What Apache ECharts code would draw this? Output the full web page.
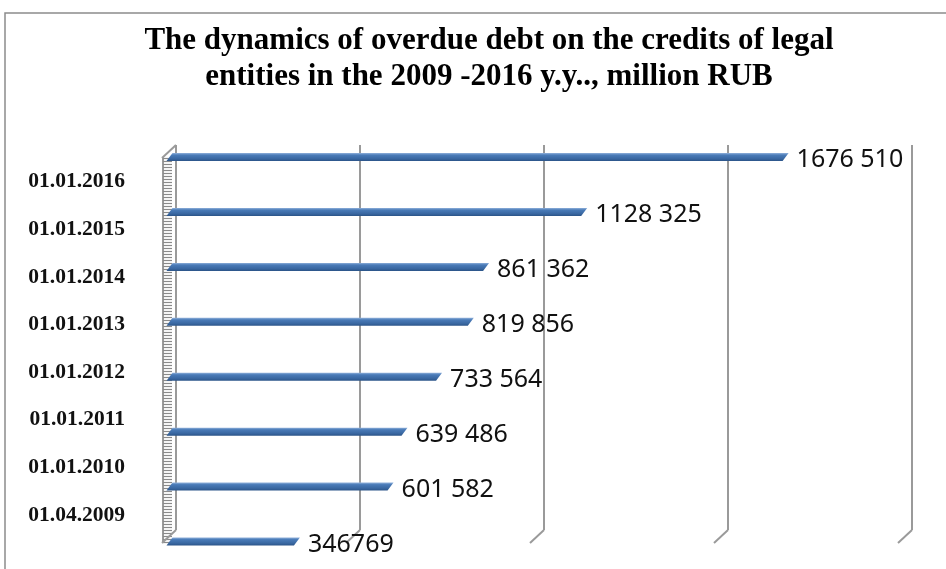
<!DOCTYPE html>
<html>
<head>
<meta charset="utf-8">
<script src="https://cdn.jsdelivr.net/npm/echarts@6/dist/echarts.min.js"></script>
<style>
  html, body { margin: 0; padding: 0; background: #fff; }
  #chart { width: 946px; height: 569px; }
</style>
</head>
<body>
<div id="chart"></div>
<script>
// Reporting dates, bottom to top
const dates = ['01.04.2009', '01.01.2010', '01.01.2011', '01.01.2012',
               '01.01.2013', '01.01.2014', '01.01.2015', '01.01.2016'];
// Overdue debt, million RUB
const overdue = [346769, 601582, 639486, 733564, 819856, 861362, 1128325, 1676510];
// Value labels as printed next to each bar
const overdueText = ['346769', '601 582', '639 486', '733 564',
                     '819 856', '861 362', '1128 325', '1676 510'];
// Value scale of the chart box
const scaleMax = 2000000;
const scaleStep = 500000;
const gridValues = [0, 500000, 1000000, 1500000, 2000000];

const chart = echarts.init(document.getElementById('chart'), null, { renderer: 'canvas' });

const wallColor = '#9a9a9a';
const depthX = 14, depthY = 13;   // front-to-back offset of the 3D box

function barItem(params, api) {
  const idx = api.value(1);
  const end = api.coord([api.value(0), idx]);
  const start = api.coord([0, idx]);
  const h = 8, s = 3;
  const y = end[1];
  return {
    type: 'group',
    children: [
      {
        type: 'polygon',
        shape: {
          points: [
            [start[0] - s, y + h / 2], [end[0] - s, y + h / 2],
            [end[0] + s, y - h / 2], [start[0] + s, y - h / 2]
          ]
        },
        style: {
          fill: new echarts.graphic.LinearGradient(0, 0, 0, 1, [
            { offset: 0, color: '#8fb0da' },
            { offset: 0.25, color: '#4a7bb8' },
            { offset: 0.7, color: '#3a68a2' },
            { offset: 1, color: '#2b5488' }
          ])
        }
      },
      {
        type: 'text',
        style: {
          x: end[0] + s + 8,
          y: y + 3,
          text: overdueText[params.dataIndex],
          fontFamily: 'Noto Sans',
          fontSize: 25,
          fill: '#111',
          verticalAlign: 'middle',
          align: 'left'
        }
      }
    ]
  };
}

function floorItem(params, api) {
  const v = api.value(0);
  const bottom = api.coord([v, 0]);
  const children = [{
    type: 'line',
    shape: { x1: bottom[0], y1: bottom[1], x2: bottom[0] - depthX, y2: bottom[1] + depthY },
    style: { stroke: wallColor, lineWidth: 2 }
  }];
  if (v === 0) {
    const top = api.coord([v, 1]);
    children.push({
      type: 'line',
      shape: { x1: top[0], y1: top[1], x2: top[0] - depthX, y2: top[1] + depthY },
      style: { stroke: wallColor, lineWidth: 2 }
    });
  }
  return { type: 'group', children };
}

const option = {
  backgroundColor: '#fff',
  animation: false,
  title: {
    text: 'The dynamics of overdue debt on the credits of legal\nentities in the 2009 -2016 y.y.., million RUB',
    left: 484,
    top: 18,
    textAlign: 'center',
    textStyle: {
      fontFamily: 'Liberation Serif',
      fontWeight: 'bold',
      fontSize: 31,
      lineHeight: 36,
      color: '#000'
    }
  },
  graphic: [{
    type: 'rect',
    shape: { x: 5, y: 13, width: 1000, height: 600 },
    style: { fill: 'none', stroke: '#8c8c8c', lineWidth: 1.5 },
    silent: true
  }],
  grid: [
    // back wall with gridlines
    { left: 176, right: 34, top: 145, bottom: 39 },
    // bars
    { left: 169.5, right: 41.5, top: 129.6, height: 441.1 },
    // date labels
    { left: 133, width: 20, top: 157.9, height: 381 },
    // side wall ruler
    { left: 163, width: 10, top: 158, height: 384 }
  ],
  xAxis: [
    {
      gridIndex: 0, type: 'value', min: 0, max: scaleMax, interval: scaleStep,
      axisLine: { show: false }, axisTick: { show: false }, axisLabel: { show: false },
      splitLine: { show: true, lineStyle: { color: wallColor, width: 2 } }
    },
    {
      gridIndex: 1, type: 'value', min: 0, max: scaleMax, interval: scaleStep,
      show: false
    },
    { gridIndex: 2, type: 'value', show: false },
    { gridIndex: 3, type: 'value', show: false }
  ],
  yAxis: [
    { gridIndex: 0, type: 'value', min: 0, max: 1, show: false },
    { gridIndex: 1, type: 'category', data: dates, show: false },
    {
      gridIndex: 2, type: 'category', data: dates,
      axisLine: { show: false }, axisTick: { show: false },
      axisLabel: {
        margin: 8,
        fontFamily: 'Liberation Serif',
        fontWeight: 'bold',
        fontSize: 21.5,
        color: '#111'
      }
    },
    {
      gridIndex: 3, type: 'value', min: 0, max: 128, interval: 1,
      axisLine: { show: true, lineStyle: { color: wallColor, width: 2 } },
      axisTick: { show: true, inside: true, length: 9, lineStyle: { color: '#8a8a8a', width: 1.2 } },
      axisLabel: { show: false },
      splitLine: { show: false }
    }
  ],
  series: [
    {
      type: 'custom',
      xAxisIndex: 0, yAxisIndex: 0,
      data: gridValues.map(v => [v]),
      encode: { x: 0 },
      renderItem: floorItem,
      silent: true,
      z: 1
    },
    {
      type: 'custom',
      xAxisIndex: 1, yAxisIndex: 1,
      data: overdue.map((v, i) => [v, i]),
      encode: { x: 0, y: 1 },
      renderItem: barItem,
      z: 5
    }
  ]
};

chart.setOption(option);
</script>
</body>
</html>
